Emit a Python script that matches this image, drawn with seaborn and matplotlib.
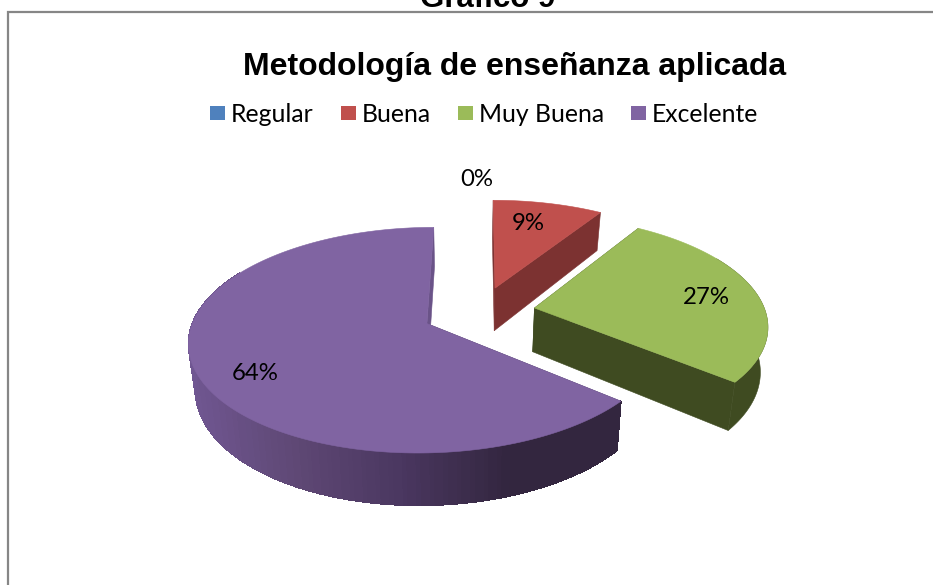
import numpy as np
import matplotlib
matplotlib.use("Agg")
import matplotlib.pyplot as plt
from matplotlib.patches import Polygon, Rectangle
import seaborn as sns

categories = ["Regular", "Buena", "Muy Buena", "Excelente"]
values = [0, 9, 27, 64]
colors = ["#4F81BD", "#C0504D", "#9BBB59", "#8064A2"]
wall_colors = ["#2F4D71", "#7C3231", "#3F4B21", "#4A3760"]
explode = [0.24, 0.24, 0.24, 0.25]
page_title = "Gráfico 9"
chart_title = "Metodología de enseñanza aplicada"
label_pos = [(477, 180), (528, 223), (706, 297), (255, 373)]
legend_swatch_x = [210, 341, 458, 631]

X0, Y0, RX, RY, P, D, TAPER, TAPER_X = 480, 312, 231, 107, 0.145, 44, 0.025, 465

sns.set_theme(style="white")
plt.rcParams["font.family"] = ["Lato", "DejaVu Sans"]

fig = plt.figure(figsize=(9.33, 5.85), dpi=100, facecolor="white")
ax = fig.add_axes([0, 0, 1, 1])
ax.set_xlim(0, 933)
ax.set_ylim(585, 0)
ax.axis("off")


def project(u, v, drop=0.0):
    s = 1.0 / (1.0 + P * v)
    shrink = 1.0 - TAPER * drop / D
    x = X0 + RX * u * s
    return np.column_stack([TAPER_X + (x - TAPER_X) * shrink, Y0 - RY * v * s + drop * s])


def add_poly(pts, color, z, aa=True):
    ax.add_patch(Polygon(pts, closed=True, facecolor=color, edgecolor=color, lw=0.4,
                         zorder=z, antialiased=aa))


rim_ramp = sns.blend_palette(["#33263F", "#33263F", "#4A3760", "#5F4875", "#705792"], 64)
total = sum(values)
edges = np.cumsum([0] + values) / total * 2 * np.pi
for i in [1, 2, 3]:
    a0, a1 = edges[i], edges[i + 1]
    mid = (a0 + a1) / 2
    au, av = explode[i] * np.sin(mid), explode[i] * np.cos(mid)
    th = np.linspace(a0, a1, 240)
    u = au + np.sin(th)
    v = av + np.cos(th)
    z = 5 - i
    # radial cut faces (the closing face of the big slice catches more light)
    for end, face in ((a0, wall_colors[i]),
                      (a1, "#6A5388" if categories[i] == "Excelente" else wall_colors[i])):
        uu = np.array([au, au + np.sin(end)])
        vv = np.array([av, av + np.cos(end)])
        top = project(uu, vv)
        bot = project(uu, vv, D)
        add_poly(np.vstack([top, bot[::-1]]), face, z)
    # outer rim, only the part that faces the viewer
    top = project(u, v)
    bot = project(u, v, D)
    seen = np.cos(th) < 0.5
    top_s, bot_s = top[seen], bot[seen]
    if len(top_s) > 1:
        if categories[i] == "Excelente":
            for k in range(len(top_s) - 1):
                t = np.clip((620 - top_s[k, 0]) / (620 - 190), 0, 1)
                c = rim_ramp[int(t * 63)]
                add_poly(np.vstack([top_s[k:k + 2], bot_s[k:k + 2][::-1]]), c, z, aa=False)
        else:
            add_poly(np.vstack([top_s, bot_s[::-1]]), wall_colors[i], z)
    # top face
    add_poly(np.vstack([project(np.array([au]), np.array([av])), top]), colors[i], z + 0.5)

for name, val, (x, y) in zip(categories, values, label_pos):
    ax.text(x, y, f"{100 * val / total:.0f}%", ha="center", va="center", fontsize=17.3,
            color="black", zorder=10)

# frame
ax.plot([8, 8, 933], [585, 12, 12], color="#868686", lw=1.6, solid_joinstyle="miter", zorder=1)

ax.text(488, 7, page_title, ha="center", va="baseline", fontsize=22.5, fontweight="bold",
        family=["Liberation Sans"], color="black")
ax.text(515, 67, chart_title, ha="center", va="center", fontsize=23, fontweight="bold",
        family=["Liberation Sans"], color="black")

for name, col, x in zip(categories, colors, legend_swatch_x):
    ax.add_patch(Rectangle((x, 106), 15, 14, facecolor=col, edgecolor="none", zorder=5))
    ax.text(x + 21, 114, name, ha="left", va="center", fontsize=17.8, color="black")

fig.savefig("out.png", dpi=100)
